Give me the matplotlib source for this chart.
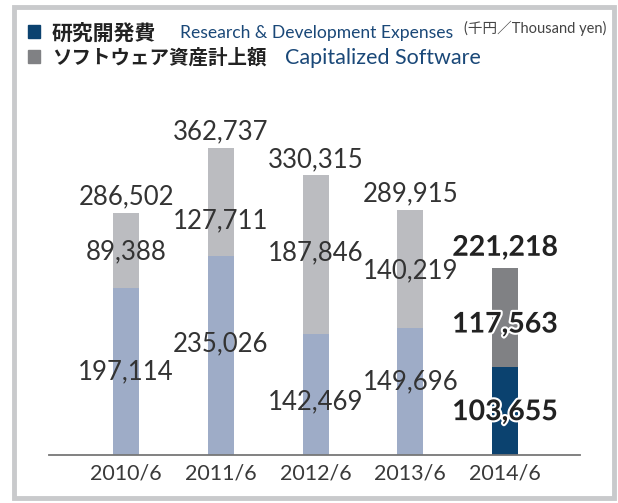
#!/usr/bin/env python

""" Stacked bars of R&D expenses and capitalized software, thousand yen. """

import matplotlib
matplotlib.use("Agg")
import matplotlib.pyplot as plt
import matplotlib.patheffects as pe
from matplotlib.patches import Rectangle

years = ["2010/6", "2011/6", "2012/6", "2013/6", "2014/6"]
rnd = [197114, 235026, 142469, 149696, 103655]
software = [89388, 127711, 187846, 140219, 117563]
totals = [286502, 362737, 330315, 289915, 221218]
latest = [False, False, False, False, True]

# label nudges in pixels (positive = up), the original places them by hand
sw_nudge = [-1, -19, 2, -2, -7]
rnd_nudge = [0, 12, -7, 10, -1]

RND_LIGHT = "#9eacc7"
RND_DARK = "#0b426f"
SW_LIGHT = "#bbbcc0"
SW_DARK = "#808184"
NAVY = "#1a4878"

plt.rcParams["font.family"] = ["Lato", "Noto Sans CJK JP", "DejaVu Sans"]

W, H = 618, 503


def fx(px):
    return px / W


def fy(py):
    return 1 - py / H


fig = plt.figure(figsize=(6.18, 5.03), dpi=100)
fig.patch.set_facecolor("white")

# outer frame
fig.patches.append(Rectangle((fx(14), fy(498)), fx(600), 491 / H,
                             transform=fig.transFigure, fill=False,
                             edgecolor="#c9cacc", linewidth=3.5))

ax = fig.add_axes([fx(49), fy(455), fx(531), 375 / H])
ax.set_xlim(-0.813, 4.79)
ax.set_ylim(0, 443090)

x = list(range(len(years)))
rnd_colors = [RND_DARK if hl else RND_LIGHT for hl in latest]
sw_colors = [SW_DARK if hl else SW_LIGHT for hl in latest]
ax.bar(x, rnd, width=0.275, color=rnd_colors, zorder=2)
ax.bar(x, software, width=0.275, bottom=rnd, color=sw_colors, zorder=2)

for i in x:
    if latest[i]:
        style = dict(fontsize=20.5, fontweight="bold", color="#222222",
                     path_effects=[pe.withStroke(linewidth=3, foreground="white")])
        top_off = 20
    else:
        style = dict(fontsize=18.5, fontweight="normal", color="#333333")
        top_off = 16
    ax.annotate(f"{totals[i]:,}", (i, totals[i]), xytext=(0, top_off),
                textcoords="offset pixels", ha="center", va="center",
                zorder=3, **style)
    ax.annotate(f"{software[i]:,}", (i, rnd[i] + software[i] / 2),
                xytext=(0, sw_nudge[i]), textcoords="offset pixels",
                ha="center", va="center", zorder=3, **style)
    ax.annotate(f"{rnd[i]:,}", (i, rnd[i] / 2),
                xytext=(0, rnd_nudge[i]), textcoords="offset pixels",
                ha="center", va="center", zorder=3, **style)

for side in ["top", "left", "right"]:
    ax.spines[side].set_visible(False)
ax.spines["bottom"].set_color("#777777")
ax.spines["bottom"].set_linewidth(1.3)
ax.set_yticks([])
ax.set_xticks(x)
ax.set_xticklabels(years, fontsize=15.5, color="#3a3a3a")
ax.tick_params(axis="x", length=0, pad=6)

# legend block
fig.patches.append(Rectangle((fx(28), fy(38)), fx(12), 13 / H,
                             transform=fig.transFigure, color=RND_DARK))
fig.patches.append(Rectangle((fx(28), fy(63)), fx(12), 13 / H,
                             transform=fig.transFigure, color=SW_DARK))
fig.text(fx(52), fy(33), "研究開発費", fontsize=15, fontweight="bold",
         family=["Noto Sans CJK JP"], color="#222222", va="center")
fig.text(fx(180), fy(33), "Research & Development Expenses", fontsize=12.6,
         family=["Lato"], color=NAVY, va="center")
fig.text(fx(464), fy(28), "(千円／Thousand yen)", fontsize=10.5,
         family=["Lato", "Noto Sans CJK JP"], color="#444444", va="center")
fig.text(fx(52), fy(58), "ソフトウェア資産計上額", fontsize=14, fontweight="bold",
         family=["Noto Sans CJK JP"], color="#222222", va="center")
fig.text(fx(285), fy(58), "Capitalized Software", fontsize=15.5,
         family=["Lato"], color=NAVY, va="center")

fig.savefig("out.png", dpi=100)
